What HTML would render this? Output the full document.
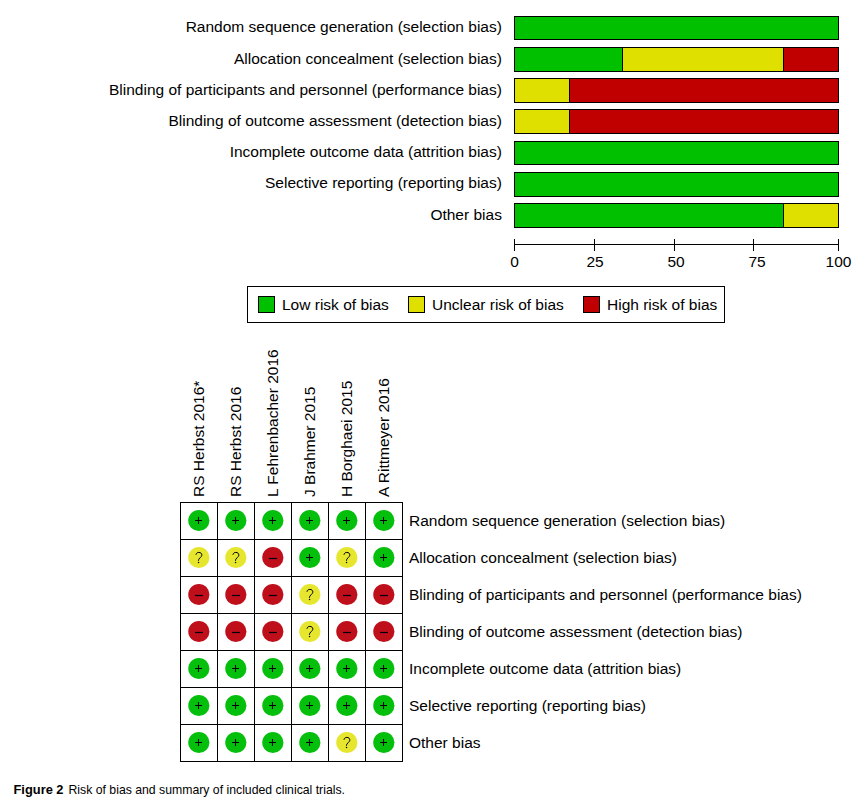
<!DOCTYPE html>
<html><head><meta charset="utf-8"><style>
html,body{margin:0;padding:0;background:#fff;}
svg{display:block;}
text{font-family:"Liberation Sans",sans-serif;fill:#000;}
</style></head><body>
<svg width="857" height="803" viewBox="0 0 857 803">
<rect x="0" y="0" width="857" height="803" fill="#fff"/>

<text transform="translate(501.9,32.30) scale(1,1)" font-size="15.5" text-anchor="end">Random sequence generation (selection bias)</text>
<text transform="translate(501.9,63.50) scale(1,1)" font-size="15.5" text-anchor="end">Allocation concealment (selection bias)</text>
<text transform="translate(501.9,94.70) scale(1,1)" font-size="15.5" text-anchor="end">Blinding of participants and personnel (performance bias)</text>
<text transform="translate(501.9,125.90) scale(1,1)" font-size="15.5" text-anchor="end">Blinding of outcome assessment (detection bias)</text>
<text transform="translate(501.9,157.10) scale(1,1)" font-size="15.5" text-anchor="end">Incomplete outcome data (attrition bias)</text>
<text transform="translate(501.9,188.30) scale(1,1)" font-size="15.5" text-anchor="end">Selective reporting (reporting bias)</text>
<text transform="translate(501.9,219.50) scale(1,1)" font-size="15.5" text-anchor="end">Other bias</text>
<g shape-rendering="crispEdges">
<rect x="514" y="16" width="324" height="23" fill="#00c000"/>
<rect x="514" y="16" width="325" height="1" fill="#000"/>
<rect x="514" y="39" width="325" height="1" fill="#000"/>
<rect x="514" y="16" width="1" height="24" fill="#000"/>
<rect x="838" y="16" width="1" height="24" fill="#000"/>
<rect x="514" y="47" width="108" height="24" fill="#00c000"/>
<rect x="622" y="47" width="161" height="24" fill="#e0e000"/>
<rect x="783" y="47" width="55" height="24" fill="#c00000"/>
<rect x="514" y="47" width="325" height="1" fill="#000"/>
<rect x="514" y="71" width="325" height="1" fill="#000"/>
<rect x="514" y="47" width="1" height="25" fill="#000"/>
<rect x="838" y="47" width="1" height="25" fill="#000"/>
<rect x="622" y="47" width="1" height="25" fill="#000"/>
<rect x="783" y="47" width="1" height="25" fill="#000"/>
<rect x="514" y="78" width="55" height="24" fill="#e0e000"/>
<rect x="569" y="78" width="269" height="24" fill="#c00000"/>
<rect x="514" y="78" width="325" height="1" fill="#000"/>
<rect x="514" y="102" width="325" height="1" fill="#000"/>
<rect x="514" y="78" width="1" height="25" fill="#000"/>
<rect x="838" y="78" width="1" height="25" fill="#000"/>
<rect x="569" y="78" width="1" height="25" fill="#000"/>
<rect x="514" y="109" width="55" height="24" fill="#e0e000"/>
<rect x="569" y="109" width="269" height="24" fill="#c00000"/>
<rect x="514" y="109" width="325" height="1" fill="#000"/>
<rect x="514" y="133" width="325" height="1" fill="#000"/>
<rect x="514" y="109" width="1" height="25" fill="#000"/>
<rect x="838" y="109" width="1" height="25" fill="#000"/>
<rect x="569" y="109" width="1" height="25" fill="#000"/>
<rect x="514" y="141" width="324" height="23" fill="#00c000"/>
<rect x="514" y="141" width="325" height="1" fill="#000"/>
<rect x="514" y="164" width="325" height="1" fill="#000"/>
<rect x="514" y="141" width="1" height="24" fill="#000"/>
<rect x="838" y="141" width="1" height="24" fill="#000"/>
<rect x="514" y="172" width="324" height="24" fill="#00c000"/>
<rect x="514" y="172" width="325" height="1" fill="#000"/>
<rect x="514" y="196" width="325" height="1" fill="#000"/>
<rect x="514" y="172" width="1" height="25" fill="#000"/>
<rect x="838" y="172" width="1" height="25" fill="#000"/>
<rect x="514" y="203" width="269" height="24" fill="#00c000"/>
<rect x="783" y="203" width="55" height="24" fill="#e0e000"/>
<rect x="514" y="203" width="325" height="1" fill="#000"/>
<rect x="514" y="227" width="325" height="1" fill="#000"/>
<rect x="514" y="203" width="1" height="25" fill="#000"/>
<rect x="838" y="203" width="1" height="25" fill="#000"/>
<rect x="783" y="203" width="1" height="25" fill="#000"/>
<rect x="514" y="244" width="325" height="1" fill="#000"/>
<rect x="514" y="239" width="1" height="12" fill="#000"/>
<rect x="594" y="239" width="1" height="12" fill="#000"/>
<rect x="674" y="239" width="1" height="12" fill="#000"/>
<rect x="753" y="239" width="1" height="12" fill="#000"/>
<rect x="838" y="239" width="1" height="12" fill="#000"/>
</g>
<text transform="translate(514.5,267) scale(1,1)" font-size="15.5" text-anchor="middle">0</text>
<text transform="translate(595,267) scale(1,1)" font-size="15.5" text-anchor="middle">25</text>
<text transform="translate(676,267) scale(1,1)" font-size="15.5" text-anchor="middle">50</text>
<text transform="translate(757,267) scale(1,1)" font-size="15.5" text-anchor="middle">75</text>
<text transform="translate(838.5,267) scale(1,1)" font-size="15.5" text-anchor="middle">100</text>
<g shape-rendering="crispEdges">
<rect x="247.5" y="286.5" width="477" height="36" fill="none" stroke="#000" stroke-width="1"/>
<rect x="258.5" y="296.5" width="16" height="16" fill="#00c000" stroke="#000" stroke-width="1"/>
<rect x="408.5" y="296.5" width="16" height="16" fill="#e0e000" stroke="#000" stroke-width="1"/>
<rect x="583.5" y="296.5" width="16" height="16" fill="#c00000" stroke="#000" stroke-width="1"/>
</g>
<text transform="translate(282,310) scale(1,1)" font-size="15.5">Low risk of bias</text>
<text transform="translate(432,310) scale(1,1)" font-size="15.5">Unclear risk of bias</text>
<text transform="translate(607,310) scale(1,1)" font-size="15.5">High risk of bias</text>
<g shape-rendering="crispEdges">
<rect x="180" y="502" width="1" height="260" fill="#000"/>
<rect x="217" y="502" width="1" height="260" fill="#000"/>
<rect x="254" y="502" width="1" height="260" fill="#000"/>
<rect x="291" y="502" width="1" height="260" fill="#000"/>
<rect x="328" y="502" width="1" height="260" fill="#000"/>
<rect x="365" y="502" width="1" height="260" fill="#000"/>
<rect x="402" y="502" width="1" height="260" fill="#000"/>
<rect x="180" y="502" width="223" height="1" fill="#000"/>
<rect x="180" y="539" width="223" height="1" fill="#000"/>
<rect x="180" y="576" width="223" height="1" fill="#000"/>
<rect x="180" y="613" width="223" height="1" fill="#000"/>
<rect x="180" y="650" width="223" height="1" fill="#000"/>
<rect x="180" y="687" width="223" height="1" fill="#000"/>
<rect x="180" y="724" width="223" height="1" fill="#000"/>
<rect x="180" y="761" width="223" height="1" fill="#000"/>
</g>
<text transform="translate(204.15,497) rotate(-90)" font-size="15.5">RS Herbst 2016*</text>
<text transform="translate(241.15,497) rotate(-90)" font-size="15.5">RS Herbst 2016</text>
<text transform="translate(278.15,497) rotate(-90)" font-size="15.5">L Fehrenbacher 2016</text>
<text transform="translate(315.15,497) rotate(-90)" font-size="15.5">J Brahmer 2015</text>
<text transform="translate(352.15,497) rotate(-90)" font-size="15.5">H Borghaei 2015</text>
<text transform="translate(389.15,497) rotate(-90)" font-size="15.5">A Rittmeyer 2016</text>
<circle cx="198.85" cy="520.5" r="10.6" fill="#04bf0b"/>
<path d="M195.05 520.50H202.05M198.50 517.00V523.90" stroke="#000" stroke-width="1.05" fill="none"/>
<circle cx="235.85" cy="520.5" r="10.6" fill="#04bf0b"/>
<path d="M232.05 520.50H239.05M235.50 517.00V523.90" stroke="#000" stroke-width="1.05" fill="none"/>
<circle cx="272.85" cy="520.5" r="10.6" fill="#04bf0b"/>
<path d="M269.05 520.50H276.05M272.50 517.00V523.90" stroke="#000" stroke-width="1.05" fill="none"/>
<circle cx="309.85" cy="520.5" r="10.6" fill="#04bf0b"/>
<path d="M306.05 520.50H313.05M309.50 517.00V523.90" stroke="#000" stroke-width="1.05" fill="none"/>
<circle cx="346.85" cy="520.5" r="10.6" fill="#04bf0b"/>
<path d="M343.05 520.50H350.05M346.50 517.00V523.90" stroke="#000" stroke-width="1.05" fill="none"/>
<circle cx="383.85" cy="520.5" r="10.6" fill="#04bf0b"/>
<path d="M380.05 520.50H387.05M383.50 517.00V523.90" stroke="#000" stroke-width="1.05" fill="none"/>
<circle cx="198.85" cy="557.5" r="10.6" fill="#e6e62e"/>
<g transform="translate(198.85,557.50)" fill="none" stroke="#000" stroke-width="1.0"><path d="M-2.9 -2.7C-2.6 -4.4 -1.5 -5.1 0 -5.1C1.8 -5.1 3.0 -4.0 3.0 -2.6C3.0 -1.2 1.9 -0.5 1.0 0.5C0.2 1.3 -0.45 2.0 -0.45 3.3"/><path d="M-0.3 4.4V5.6" stroke-width="1.3"/></g>
<circle cx="235.85" cy="557.5" r="10.6" fill="#e6e62e"/>
<g transform="translate(235.85,557.50)" fill="none" stroke="#000" stroke-width="1.0"><path d="M-2.9 -2.7C-2.6 -4.4 -1.5 -5.1 0 -5.1C1.8 -5.1 3.0 -4.0 3.0 -2.6C3.0 -1.2 1.9 -0.5 1.0 0.5C0.2 1.3 -0.45 2.0 -0.45 3.3"/><path d="M-0.3 4.4V5.6" stroke-width="1.3"/></g>
<circle cx="272.85" cy="557.5" r="10.6" fill="#be0f1b"/>
<path d="M268.95 558.50H276.95" stroke="#000" stroke-width="1.2" fill="none"/>
<circle cx="309.85" cy="557.5" r="10.6" fill="#04bf0b"/>
<path d="M306.05 557.50H313.05M309.50 554.00V560.90" stroke="#000" stroke-width="1.05" fill="none"/>
<circle cx="346.85" cy="557.5" r="10.6" fill="#e6e62e"/>
<g transform="translate(346.85,557.50)" fill="none" stroke="#000" stroke-width="1.0"><path d="M-2.9 -2.7C-2.6 -4.4 -1.5 -5.1 0 -5.1C1.8 -5.1 3.0 -4.0 3.0 -2.6C3.0 -1.2 1.9 -0.5 1.0 0.5C0.2 1.3 -0.45 2.0 -0.45 3.3"/><path d="M-0.3 4.4V5.6" stroke-width="1.3"/></g>
<circle cx="383.85" cy="557.5" r="10.6" fill="#04bf0b"/>
<path d="M380.05 557.50H387.05M383.50 554.00V560.90" stroke="#000" stroke-width="1.05" fill="none"/>
<circle cx="198.85" cy="594.5" r="10.6" fill="#be0f1b"/>
<path d="M194.95 595.50H202.95" stroke="#000" stroke-width="1.2" fill="none"/>
<circle cx="235.85" cy="594.5" r="10.6" fill="#be0f1b"/>
<path d="M231.95 595.50H239.95" stroke="#000" stroke-width="1.2" fill="none"/>
<circle cx="272.85" cy="594.5" r="10.6" fill="#be0f1b"/>
<path d="M268.95 595.50H276.95" stroke="#000" stroke-width="1.2" fill="none"/>
<circle cx="309.85" cy="594.5" r="10.6" fill="#e6e62e"/>
<g transform="translate(309.85,594.50)" fill="none" stroke="#000" stroke-width="1.0"><path d="M-2.9 -2.7C-2.6 -4.4 -1.5 -5.1 0 -5.1C1.8 -5.1 3.0 -4.0 3.0 -2.6C3.0 -1.2 1.9 -0.5 1.0 0.5C0.2 1.3 -0.45 2.0 -0.45 3.3"/><path d="M-0.3 4.4V5.6" stroke-width="1.3"/></g>
<circle cx="346.85" cy="594.5" r="10.6" fill="#be0f1b"/>
<path d="M342.95 595.50H350.95" stroke="#000" stroke-width="1.2" fill="none"/>
<circle cx="383.85" cy="594.5" r="10.6" fill="#be0f1b"/>
<path d="M379.95 595.50H387.95" stroke="#000" stroke-width="1.2" fill="none"/>
<circle cx="198.85" cy="631.5" r="10.6" fill="#be0f1b"/>
<path d="M194.95 632.50H202.95" stroke="#000" stroke-width="1.2" fill="none"/>
<circle cx="235.85" cy="631.5" r="10.6" fill="#be0f1b"/>
<path d="M231.95 632.50H239.95" stroke="#000" stroke-width="1.2" fill="none"/>
<circle cx="272.85" cy="631.5" r="10.6" fill="#be0f1b"/>
<path d="M268.95 632.50H276.95" stroke="#000" stroke-width="1.2" fill="none"/>
<circle cx="309.85" cy="631.5" r="10.6" fill="#e6e62e"/>
<g transform="translate(309.85,631.50)" fill="none" stroke="#000" stroke-width="1.0"><path d="M-2.9 -2.7C-2.6 -4.4 -1.5 -5.1 0 -5.1C1.8 -5.1 3.0 -4.0 3.0 -2.6C3.0 -1.2 1.9 -0.5 1.0 0.5C0.2 1.3 -0.45 2.0 -0.45 3.3"/><path d="M-0.3 4.4V5.6" stroke-width="1.3"/></g>
<circle cx="346.85" cy="631.5" r="10.6" fill="#be0f1b"/>
<path d="M342.95 632.50H350.95" stroke="#000" stroke-width="1.2" fill="none"/>
<circle cx="383.85" cy="631.5" r="10.6" fill="#be0f1b"/>
<path d="M379.95 632.50H387.95" stroke="#000" stroke-width="1.2" fill="none"/>
<circle cx="198.85" cy="668.5" r="10.6" fill="#04bf0b"/>
<path d="M195.05 668.50H202.05M198.50 665.00V671.90" stroke="#000" stroke-width="1.05" fill="none"/>
<circle cx="235.85" cy="668.5" r="10.6" fill="#04bf0b"/>
<path d="M232.05 668.50H239.05M235.50 665.00V671.90" stroke="#000" stroke-width="1.05" fill="none"/>
<circle cx="272.85" cy="668.5" r="10.6" fill="#04bf0b"/>
<path d="M269.05 668.50H276.05M272.50 665.00V671.90" stroke="#000" stroke-width="1.05" fill="none"/>
<circle cx="309.85" cy="668.5" r="10.6" fill="#04bf0b"/>
<path d="M306.05 668.50H313.05M309.50 665.00V671.90" stroke="#000" stroke-width="1.05" fill="none"/>
<circle cx="346.85" cy="668.5" r="10.6" fill="#04bf0b"/>
<path d="M343.05 668.50H350.05M346.50 665.00V671.90" stroke="#000" stroke-width="1.05" fill="none"/>
<circle cx="383.85" cy="668.5" r="10.6" fill="#04bf0b"/>
<path d="M380.05 668.50H387.05M383.50 665.00V671.90" stroke="#000" stroke-width="1.05" fill="none"/>
<circle cx="198.85" cy="705.5" r="10.6" fill="#04bf0b"/>
<path d="M195.05 705.50H202.05M198.50 702.00V708.90" stroke="#000" stroke-width="1.05" fill="none"/>
<circle cx="235.85" cy="705.5" r="10.6" fill="#04bf0b"/>
<path d="M232.05 705.50H239.05M235.50 702.00V708.90" stroke="#000" stroke-width="1.05" fill="none"/>
<circle cx="272.85" cy="705.5" r="10.6" fill="#04bf0b"/>
<path d="M269.05 705.50H276.05M272.50 702.00V708.90" stroke="#000" stroke-width="1.05" fill="none"/>
<circle cx="309.85" cy="705.5" r="10.6" fill="#04bf0b"/>
<path d="M306.05 705.50H313.05M309.50 702.00V708.90" stroke="#000" stroke-width="1.05" fill="none"/>
<circle cx="346.85" cy="705.5" r="10.6" fill="#04bf0b"/>
<path d="M343.05 705.50H350.05M346.50 702.00V708.90" stroke="#000" stroke-width="1.05" fill="none"/>
<circle cx="383.85" cy="705.5" r="10.6" fill="#04bf0b"/>
<path d="M380.05 705.50H387.05M383.50 702.00V708.90" stroke="#000" stroke-width="1.05" fill="none"/>
<circle cx="198.85" cy="742.5" r="10.6" fill="#04bf0b"/>
<path d="M195.05 742.50H202.05M198.50 739.00V745.90" stroke="#000" stroke-width="1.05" fill="none"/>
<circle cx="235.85" cy="742.5" r="10.6" fill="#04bf0b"/>
<path d="M232.05 742.50H239.05M235.50 739.00V745.90" stroke="#000" stroke-width="1.05" fill="none"/>
<circle cx="272.85" cy="742.5" r="10.6" fill="#04bf0b"/>
<path d="M269.05 742.50H276.05M272.50 739.00V745.90" stroke="#000" stroke-width="1.05" fill="none"/>
<circle cx="309.85" cy="742.5" r="10.6" fill="#04bf0b"/>
<path d="M306.05 742.50H313.05M309.50 739.00V745.90" stroke="#000" stroke-width="1.05" fill="none"/>
<circle cx="346.85" cy="742.5" r="10.6" fill="#e6e62e"/>
<g transform="translate(346.85,742.50)" fill="none" stroke="#000" stroke-width="1.0"><path d="M-2.9 -2.7C-2.6 -4.4 -1.5 -5.1 0 -5.1C1.8 -5.1 3.0 -4.0 3.0 -2.6C3.0 -1.2 1.9 -0.5 1.0 0.5C0.2 1.3 -0.45 2.0 -0.45 3.3"/><path d="M-0.3 4.4V5.6" stroke-width="1.3"/></g>
<circle cx="383.85" cy="742.5" r="10.6" fill="#04bf0b"/>
<path d="M380.05 742.50H387.05M383.50 739.00V745.90" stroke="#000" stroke-width="1.05" fill="none"/>
<text transform="translate(409,526) scale(1,1)" font-size="15.5">Random sequence generation (selection bias)</text>
<text transform="translate(409,563) scale(1,1)" font-size="15.5">Allocation concealment (selection bias)</text>
<text transform="translate(409,600) scale(1,1)" font-size="15.5">Blinding of participants and personnel (performance bias)</text>
<text transform="translate(409,637) scale(1,1)" font-size="15.5">Blinding of outcome assessment (detection bias)</text>
<text transform="translate(409,674) scale(1,1)" font-size="15.5">Incomplete outcome data (attrition bias)</text>
<text transform="translate(409,711) scale(1,1)" font-size="15.5">Selective reporting (reporting bias)</text>
<text transform="translate(409,748) scale(1,1)" font-size="15.5">Other bias</text>
<text x="13.5" y="793.6" font-size="12.2" font-weight="bold" textLength="50" lengthAdjust="spacingAndGlyphs">Figure 2</text>
<text x="68.5" y="793.6" font-size="12.2" textLength="276.5" lengthAdjust="spacingAndGlyphs">Risk of bias and summary of included clinical trials.</text>
</svg></body></html>
